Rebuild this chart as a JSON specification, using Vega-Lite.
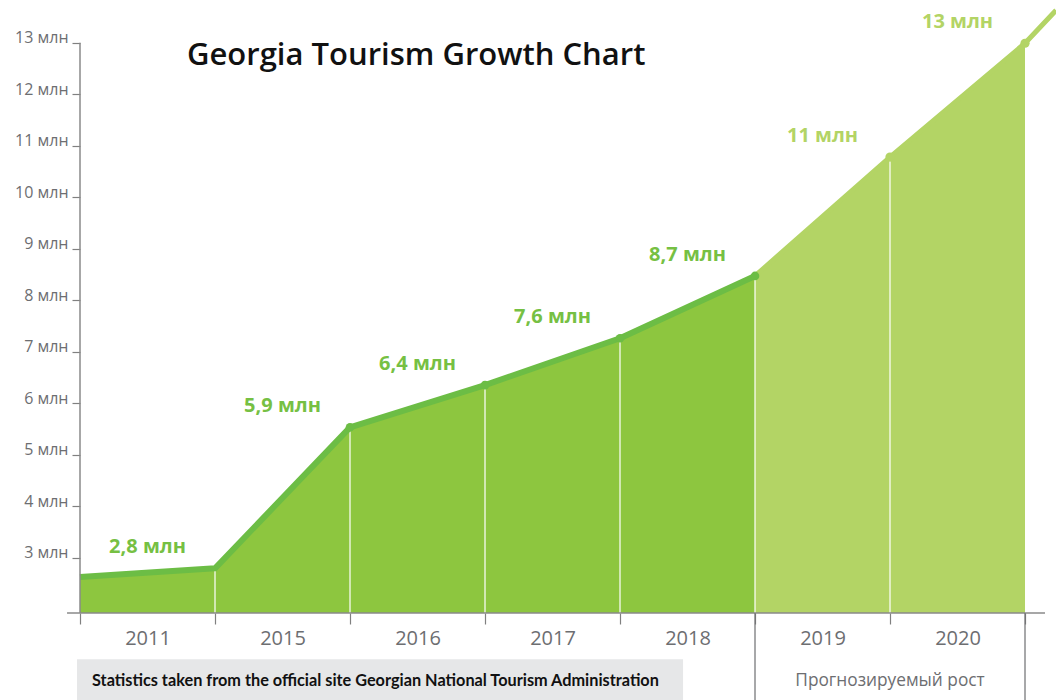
{
  "$schema": "https://vega.github.io/schema/vega-lite/v6.json",
  "width": 976,
  "height": 613,
  "autosize": "none",
  "padding": {"left": 80, "top": 0, "right": 0, "bottom": 87},
  "background": "white",
  "config": {"view": {"stroke": null}, "font": "Open Sans"},
  "title": {
    "text": "Georgia Tourism Growth Chart",
    "anchor": "start",
    "frame": "group",
    "orient": "top",
    "offset": 0,
    "baseline": "alphabetic",
    "dx": 107,
    "dy": 96,
    "fontSize": 31,
    "fontWeight": 600,
    "color": "#111111",
    "font": "Open Sans"
  },
  "data": {
    "values": [
      {"pos": 0, "v": 2.62, "phase": "actual"},
      {"pos": 1, "v": 2.79, "year": "2011", "label": "2,8 млн", "phase": "actual"},
      {"pos": 2, "v": 5.53, "year": "2015", "label": "5,9 млн", "phase": "actual"},
      {"pos": 3, "v": 6.35, "year": "2016", "label": "6,4 млн", "phase": "actual"},
      {"pos": 4, "v": 7.26, "year": "2017", "label": "7,6 млн", "phase": "actual"},
      {"pos": 5, "v": 8.47, "year": "2018", "label": "8,7 млн", "phase": "actual"},
      {"pos": 6, "v": 10.78, "year": "2019", "label": "11 млн", "phase": "forecast"},
      {"pos": 7, "v": 12.99, "year": "2020", "label": "13 млн", "phase": "forecast"},
      {"pos": 7.23, "v": 13.63, "phase": "forecast"}
    ]
  },
  "encoding": {
    "x": {
      "field": "pos",
      "type": "quantitative",
      "scale": {"domain": [0, 7.2296], "nice": false, "zero": false},
      "axis": {
        "values": [0, 1, 2, 3, 4, 5, 6, 7],
        "labelExpr": "['2011','2015','2016','2017','2018','2019','2020',''][datum.value]",
        "labelOffset": 67.5,
        "labelFlush": false,
        "labelOverlap": false,
        "labelFontSize": 20,
        "labelColor": "#6d6e71",
        "labelFont": "Open Sans",
        "labelPadding": 4,
        "tickSize": 11,
        "tickColor": "#808080",
        "tickWidth": 1.2,
        "domain": false,
        "grid": false,
        "title": null
      }
    },
    "y": {
      "field": "v",
      "type": "quantitative",
      "scale": {"domain": [1.923, 13.83], "nice": false, "zero": false},
      "axis": {
        "values": [3, 4, 5, 6, 7, 8, 9, 10, 11, 12, 13],
        "labelExpr": "datum.value + ' млн'",
        "labelFontSize": 16,
        "labelColor": "#6d6e71",
        "labelFont": "Open Sans",
        "labelOffset": -5,
        "labelPadding": 4,
        "tickSize": 8,
        "tickColor": "#808080",
        "tickWidth": 1.2,
        "domain": false,
        "grid": false,
        "title": null
      }
    }
  },
  "layer": [
    {
      "transform": [{"filter": "datum.pos <= 5"}],
      "mark": {"type": "area", "color": "#8dc63f"},
      "encoding": {"y2": {"datum": 1.923}}
    },
    {
      "transform": [{"filter": "datum.pos >= 5 && datum.pos <= 7"}],
      "mark": {"type": "area", "color": "#b3d465"},
      "encoding": {"y2": {"datum": 1.923}}
    },
    {
      "transform": [{"filter": "datum.pos >= 1 && datum.pos <= 6"}],
      "mark": {"type": "rule", "color": "#ffffff", "strokeWidth": 1.2},
      "encoding": {"y2": {"datum": 1.923}}
    },
    {
      "transform": [{"filter": "datum.pos <= 5"}],
      "mark": {"type": "line", "color": "#6cbd45", "strokeWidth": 6, "strokeJoin": "round"},
      "encoding": {}
    },
    {
      "transform": [{"filter": "datum.pos >= 5"}],
      "mark": {"type": "line", "color": "#b3d465", "strokeWidth": 5, "strokeJoin": "round"},
      "encoding": {}
    },
    {
      "transform": [{"filter": "datum.pos >= 2 && datum.pos <= 5"}],
      "mark": {"type": "circle", "color": "#6cbd45", "size": 75, "opacity": 1},
      "encoding": {}
    },
    {
      "transform": [{"filter": "datum.pos >= 6 && datum.pos <= 7"}],
      "mark": {"type": "circle", "color": "#b3d465", "size": 85, "opacity": 1},
      "encoding": {}
    },
    {
      "transform": [{"filter": "isValid(datum.label)"}],
      "mark": {"type": "text", "fontSize": 20, "fontWeight": "bold", "font": "Open Sans", "dx": -67.5, "dy": -21, "align": "center", "baseline": "middle"},
      "encoding": {
        "text": {"field": "label"},
        "color": {"field": "phase", "type": "nominal", "scale": {"domain": ["actual", "forecast"], "range": ["#76c043", "#b3d465"]}, "legend": null}
      }
    },
    {
      "transform": [{"filter": "datum.pos == 0"}],
      "mark": {"type": "rule", "color": "#8a8a8a", "strokeWidth": 1.5},
      "encoding": {"x": {"datum": 0}, "y": {"datum": 13}, "y2": {"datum": 1.923}}
    },
    {
      "transform": [{"filter": "datum.pos == 0"}],
      "mark": {"type": "rule", "color": "#8a8a8a", "strokeWidth": 1.5},
      "encoding": {"x": {"datum": -0.096}, "x2": {"datum": 7.148}, "y": {"datum": 1.923}}
    },
    {
      "transform": [{"filter": "datum.pos == 5 || datum.pos == 7"}],
      "mark": {"type": "rule", "color": "#6d6e71", "strokeWidth": 1.2},
      "encoding": {"y": {"datum": 1.923}, "y2": {"datum": 0.1}}
    },
    {
      "transform": [{"filter": "datum.pos == 0"}],
      "mark": {"type": "rect", "color": "#e6e7e8"},
      "encoding": {"x": {"datum": -0.022}, "x2": {"datum": 4.467}, "y": {"datum": 1.023}, "y2": {"datum": 0.1}}
    },
    {
      "transform": [{"filter": "datum.pos == 0"}],
      "mark": {"type": "text", "align": "left", "baseline": "middle", "fontSize": 16.3, "fontWeight": "bold", "font": "Lato", "color": "#111111"},
      "encoding": {"x": {"datum": 0.089}, "y": {"datum": 0.596}, "text": {"value": "Statistics taken from the official site Georgian National Tourism Administration"}}
    },
    {
      "transform": [{"filter": "datum.pos == 0"}],
      "mark": {"type": "text", "align": "center", "baseline": "middle", "fontSize": 17.3, "font": "Open Sans", "color": "#6d6e71"},
      "encoding": {"x": {"datum": 6}, "y": {"datum": 0.596}, "text": {"value": "Прогнозируемый рост"}}
    }
  ]
}
